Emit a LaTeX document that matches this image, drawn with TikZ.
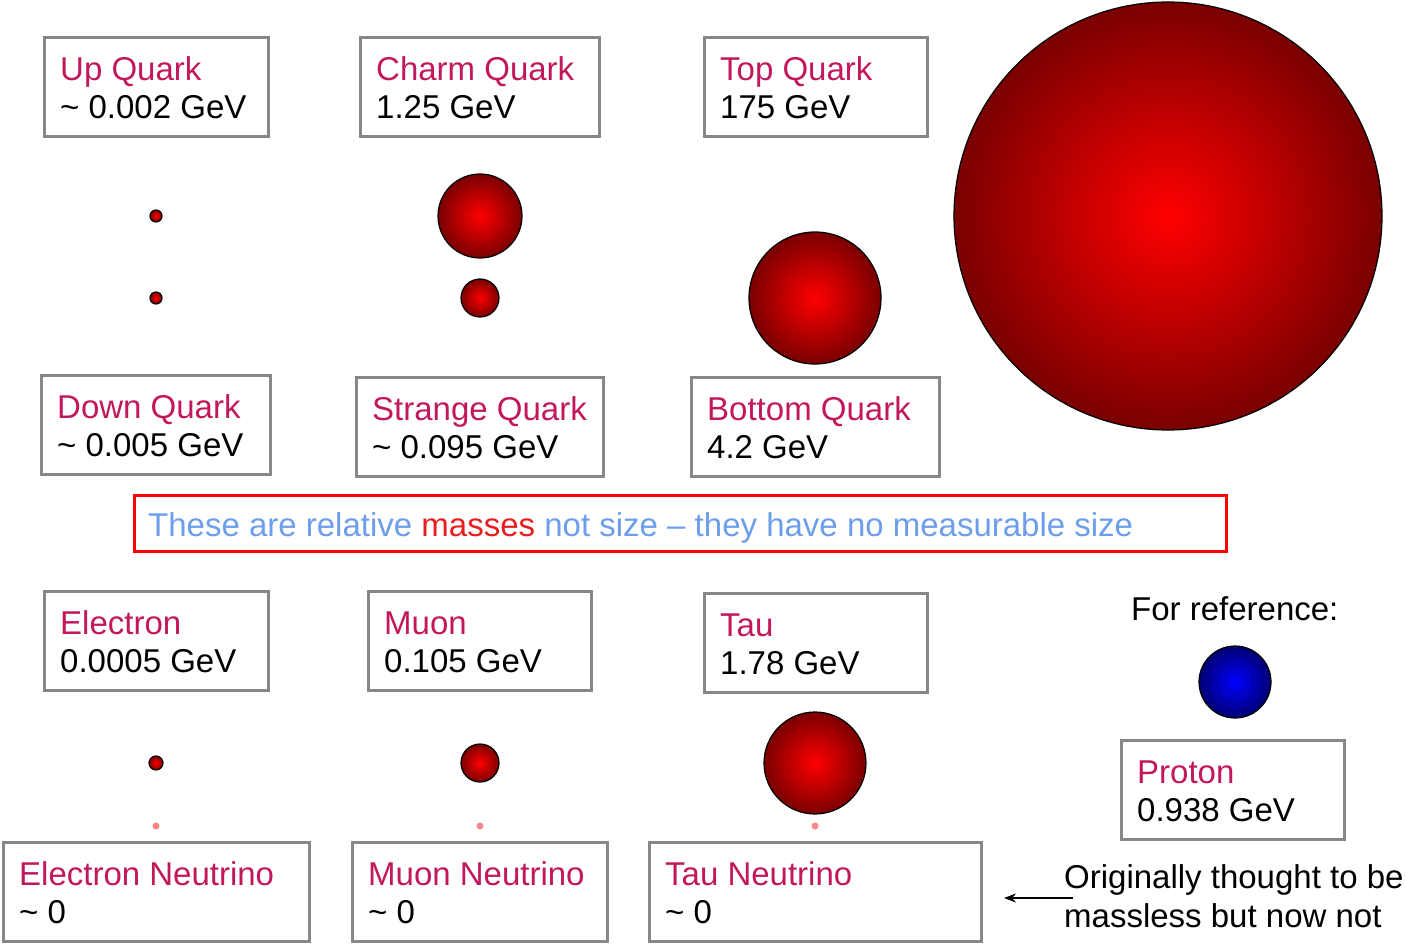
\documentclass[tikz,border=0pt]{standalone}
\usepackage{fontspec}
\setmainfont{Liberation Sans}
\usetikzlibrary{arrows.meta}
\definecolor{boxgray}{RGB}{135,135,135}
\definecolor{titlecol}{RGB}{194,24,91}
\definecolor{noteblue}{RGB}{109,158,235}
\definecolor{notered}{RGB}{232,30,30}
\definecolor{darkred}{RGB}{122,0,0}
\definecolor{darkblue}{RGB}{0,0,115}
\definecolor{nupink}{RGB}{245,135,135}
\newcommand\txtf{\fontsize{33}{38}\selectfont}
\newcommand\pbox[7]{%
  \node[qbox, minimum width=#4, minimum height=#5] (#1) at (#2,#3) {};
  \node[ttl] (#1t) at ({#2+16},{#3+43}) {#6};
  \node[val] (#1v) at ({#2+16},{#3+81}) {#7};
}
\begin{document}
\begin{tikzpicture}[x=1pt,y=-1pt,
  qbox/.style={draw=boxgray, line width=3pt, anchor=north west, inner sep=0, outer sep=0},
  ttl/.style={anchor=base west, text=titlecol, font=\txtf, inner sep=0},
  val/.style={anchor=base west, text=black, font=\txtf, inner sep=0},
  particle/.style={circle, draw=black, line width=1.2pt, inner color=red, outer color=darkred, inner sep=0},
  protonball/.style={circle, draw=black, line width=1.2pt, inner color=blue, outer color=darkblue, inner sep=0},
  nudot/.style={circle, fill=nupink, inner sep=0, minimum size=7pt},
  plain/.style={anchor=base west, text=black, font=\txtf, inner sep=0}]
\useasboundingbox (0,0) rectangle (1405,944);

% quark boxes
\pbox{up}{44}{38}{224}{99}{Up Quark}{\textasciitilde\ 0.002 GeV}
\pbox{charm}{360}{38}{239}{99}{Charm Quark}{1.25 GeV}
\pbox{top}{704}{38}{223}{99}{Top Quark}{175 GeV}
\pbox{down}{41}{375}{229}{99}{Down Quark}{\textasciitilde\ 0.005 GeV}
\pbox{strange}{356}{377}{247}{99}{Strange Quark}{\textasciitilde\ 0.095 GeV}
\pbox{bottom}{691}{377}{248}{99}{Bottom Quark}{4.2 GeV}

% lepton boxes
\pbox{electron}{44}{591}{224}{99}{Electron}{0.0005 GeV}
\pbox{muon}{368}{591}{223}{99}{Muon}{0.105 GeV}
\pbox{tau}{704}{593}{223}{99}{Tau}{1.78 GeV}
\pbox{proton}{1121}{740}{223}{99}{Proton}{0.938 GeV}
\pbox{enu}{3}{842}{306}{99}{Electron Neutrino}{\textasciitilde\ 0}
\pbox{munu}{352}{842}{255}{99}{Muon Neutrino}{\textasciitilde\ 0}
\pbox{taunu}{649}{842}{332}{99}{Tau Neutrino}{\textasciitilde\ 0}

% spheres
\node[particle, minimum size=12pt] (sup) at (156,216) {};
\node[particle, minimum size=12pt] (sdown) at (156,298) {};
\node[particle, minimum size=84pt] (scharm) at (480,216) {};
\node[particle, minimum size=38pt] (sstrange) at (480,298) {};
\node[particle, minimum size=132pt] (sbottom) at (815,298) {};
\node[particle, minimum size=428pt] (stop) at (1168,216) {};
\node[particle, minimum size=14pt] (selectron) at (156,763) {};
\node[particle, minimum size=38pt] (smuon) at (480,763) {};
\node[particle, minimum size=102pt] (stau) at (815,763) {};
\node[protonball, minimum size=72pt] (sproton) at (1235,682) {};
\node[nudot] (senu) at (156,826) {};
\node[nudot] (smunu) at (480,826) {};
\node[nudot] (staunu) at (815,826) {};

% note box
\node[draw=red, line width=3pt, anchor=north west, minimum width=1092, minimum height=56, inner sep=0] (note) at (133,494) {};
\node[anchor=base west, inner sep=0, font=\txtf, text=noteblue] (notet) at (148,536)
  {These are relative \textcolor{notered}{masses} not size – they have no measurable size};

% reference text
\node[plain] (forref) at (1131,620) {For reference:};
\node[plain] (orig1) at (1064,888) {Originally thought to be};
\node[plain] (orig2) at (1064,927) {massless but now not};
\coordinate (arrS) at (1073,898);
\coordinate (arrE) at (1004,898);
\draw[line width=1.4pt, -{Stealth[length=12pt,width=9pt]}] (arrS) -- (arrE);
\end{tikzpicture}
\end{document}
